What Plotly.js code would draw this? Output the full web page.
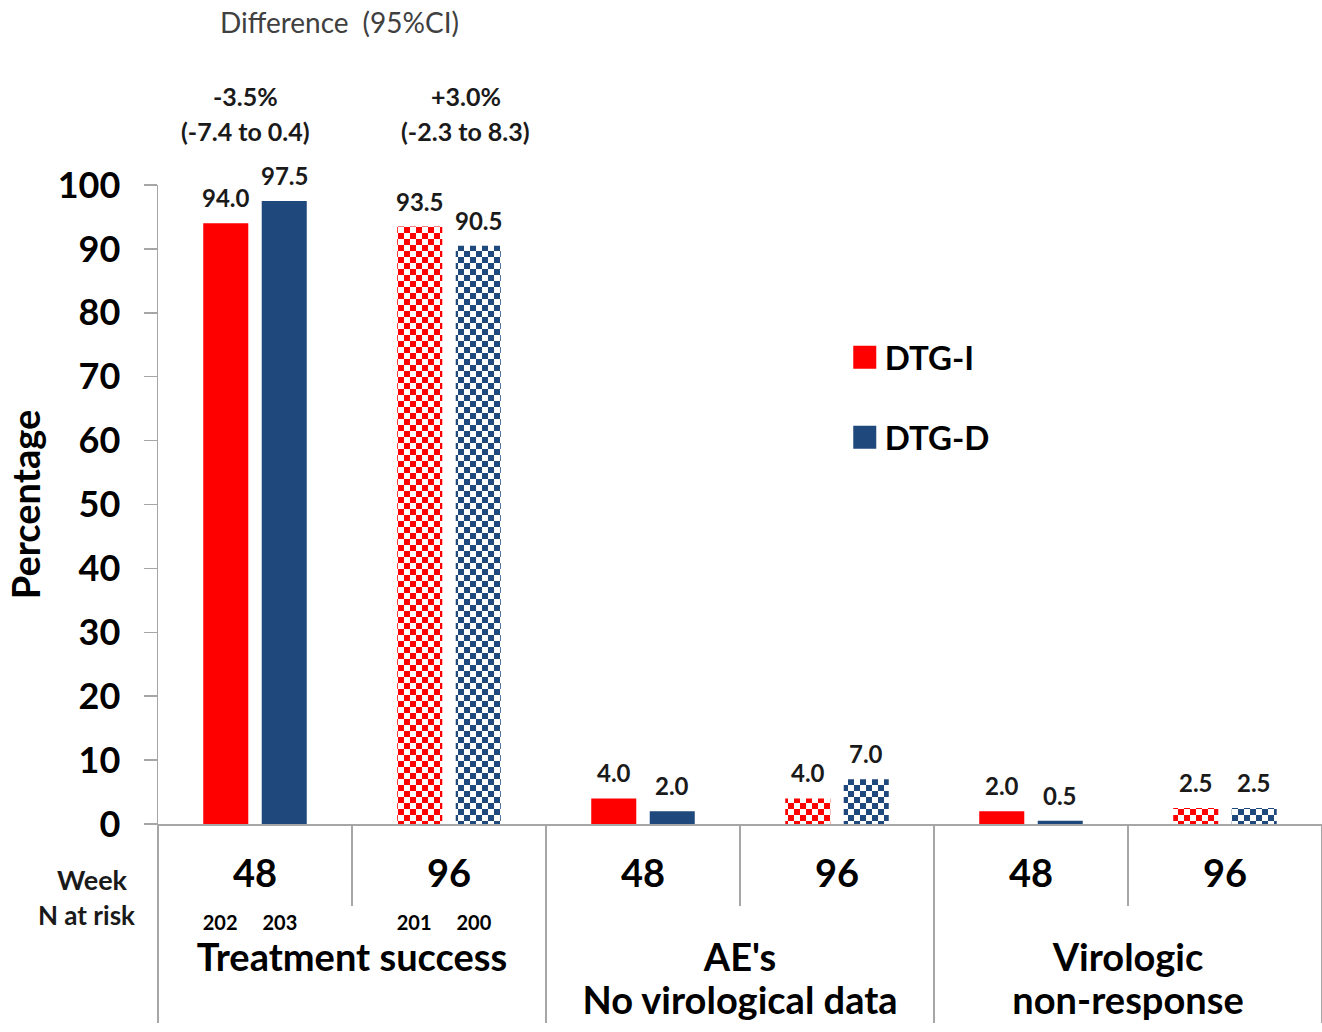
<!DOCTYPE html>
<html><head><meta charset="utf-8">
<script src="https://cdn.plot.ly/plotly-3.0.1.min.js"></script>
<style>html,body{margin:0;padding:0;background:#fff}#chart{width:1322px;height:1032px}</style>
</head><body><div id="chart"></div>
<script>
// ---- data ----
const outcomes = ['Treatment success', 'Treatment success',
  "AE's<br>No virological data", "AE's<br>No virological data",
  'Virologic<br>non-response', 'Virologic<br>non-response'];
const weeks = ['48', '96', '48', '96', '48', '96'];
const nAtRiskI = ['202', '201', '', '', '', ''];
const nAtRiskD = ['203', '200', '', '', '', ''];
const dtgI = [94.0, 93.5, 4.0, 4.0, 2.0, 2.5];
const dtgD = [97.5, 90.5, 2.0, 7.0, 0.5, 2.5];
const seriesNames = ['DTG-I', 'DTG-D'];
const diffLabels = ['-3.5%', '+3.0%'];
const ciLabels = ['(-7.4 to 0.4)', '(-2.3 to 8.3)'];
const headerLabel = 'Difference\u2002(95%CI)';
const rowLabels = ['Week', 'N at risk'];
const yTitle = 'Percentage';

// ---- style ----
const RED = '#ff0000', BLUE = '#1f497d', AXC = '#a6a6a6';
const FONT = 'Lato, "Open Sans", "DejaVu Sans", sans-serif';
const BARGAP = 0.397, GROUPGAP = 0.23;
const CELL = 6;
const barOffset = (1 - BARGAP) / 4;

const span = (t, px) => '<span style="font-size:' + px + 'px">' + t + '</span>';
// tall non-breaking spaces around the week number reserve vertical room so the
// outcome labels sit below the N-at-risk row
const pad = span('\u00a0', 58);
const innerLabels = weeks.map((w, i) => nAtRiskI[i]
  ? pad + span(w, 38) + pad + '<br>' + span(nAtRiskI[i] + '\u2003\u2002' + nAtRiskD[i] + '\u2002', 20)
  : span(w, 38));
const outerLabels = outcomes.map(o => o.split('<br>').map(l => span(l, 38)).join('<br>'));
const shapes = weeks.map(w => w === '96' ? 'x' : '');

function barTrace(name, vals, color, grp) {
  return {
    type: 'bar', name: name, legendgroup: grp,
    x: [outerLabels, innerLabels], y: vals,
    marker: { color: color, line: { width: 0 },
      pattern: { shape: shapes, fillmode: 'replace', fgcolor: color, bgcolor: '#ffffff', size: 2 * CELL, solidity: 0.5 } },
    hoverinfo: 'skip'
  };
}
const traces = [barTrace(seriesNames[0], dtgI, RED, 'a'), barTrace(seriesNames[1], dtgD, BLUE, 'b')];

const annotations = [];
const valFont = { family: FONT, size: 24, color: '#1a1a1a', weight: 700 };
[dtgI, dtgD].forEach((vals, s) => {
  vals.forEach((v, i) => {
    annotations.push({ xref: 'x', yref: 'y', x: i + (s === 0 ? -barOffset : barOffset), y: v,
      text: v.toFixed(1), showarrow: false, yanchor: 'bottom', xanchor: 'center', yshift: 9, font: valFont });
  });
});
const ciFont = { family: FONT, size: 25, color: '#1a1a1a', weight: 700 };
const ciX = [0.0756, 0.2646];
diffLabels.forEach((t, k) => {
  annotations.push({ xref: 'paper', yref: 'paper', x: ciX[k], y: 1.139, text: t, showarrow: false, font: ciFont, xanchor: 'center', yanchor: 'middle' });
  annotations.push({ xref: 'paper', yref: 'paper', x: ciX[k], y: 1.0845, text: ciLabels[k], showarrow: false, font: ciFont, xanchor: 'center', yanchor: 'middle' });
});
annotations.push({ xref: 'paper', yref: 'paper', x: 0.156, y: 1.255, text: headerLabel, showarrow: false,
  font: { family: FONT, size: 28, color: '#404040' }, xanchor: 'center', yanchor: 'middle' });
annotations.push({ xref: 'paper', yref: 'paper', x: -0.0567, y: -0.0876, text: rowLabels[0], showarrow: false,
  font: { family: FONT, size: 27, color: '#1a1a1a', weight: 700 }, xanchor: 'center', yanchor: 'middle' });
annotations.push({ xref: 'paper', yref: 'paper', x: -0.061, y: -0.1424, text: rowLabels[1], showarrow: false,
  font: { family: FONT, size: 26, color: '#1a1a1a', weight: 700 }, xanchor: 'center', yanchor: 'middle' });

const layout = {
  width: 1322, height: 1032,
  margin: { l: 158, r: 0, t: 185, b: 208 },
  paper_bgcolor: '#ffffff', plot_bgcolor: '#ffffff',
  font: { family: FONT, color: '#000000' },
  barmode: 'group', bargap: BARGAP, bargroupgap: GROUPGAP,
  showlegend: true,
  legend: { x: 0.590, y: 0.774, xanchor: 'left', yanchor: 'top', bgcolor: 'rgba(0,0,0,0)',
    font: { family: FONT, size: 33, color: '#000000', weight: 700 }, tracegroupgap: 34, traceorder: 'grouped' },
  xaxis: {
    type: 'multicategory', showline: true, linecolor: AXC, linewidth: 1.5,
    ticks: 'outside', tickson: 'boundaries', ticklen: 80, tickcolor: AXC, tickwidth: 1.5,
    ticklabelstandoff: 22,
    showdividers: true, dividercolor: AXC, dividerwidth: 1.5,
    tickfont: { family: FONT, size: 33, color: '#000000', weight: 700 },
    showgrid: false, zeroline: false
  },
  yaxis: {
    range: [0, 100], dtick: 10, showline: true, linecolor: AXC, linewidth: 1.5,
    ticks: 'outside', ticklen: 13, tickcolor: AXC, tickwidth: 1.5, ticklabelstandoff: 16,
    tickfont: { family: FONT, size: 36, color: '#000000', weight: 700 },
    showgrid: false, zeroline: false,
    title: { text: yTitle, standoff: 5, font: { family: FONT, size: 38, color: '#000000', weight: 700 } }
  },
  annotations: annotations
};

function fixup(gd) {
  const ns = 'http://www.w3.org/2000/svg';
  gd.querySelectorAll('pattern').forEach(p => {
    if (p.getAttribute('data-checker')) return;
    const kids = Array.from(p.children);
    let fg = null;
    kids.forEach(k => { if (k.tagName.toLowerCase() !== 'rect') fg = k.getAttribute('stroke') || k.getAttribute('fill') || fg; });
    if (!fg) return;
    kids.forEach(k => p.removeChild(k));
    p.setAttribute('width', 2 * CELL); p.setAttribute('height', 2 * CELL);
    p.removeAttribute('patternTransform');
    const mk = (x, y, w, h, c) => { const r = document.createElementNS(ns, 'rect');
      r.setAttribute('x', x); r.setAttribute('y', y); r.setAttribute('width', w); r.setAttribute('height', h);
      r.setAttribute('fill', c); p.appendChild(r); };
    mk(0, 0, 2 * CELL, 2 * CELL, '#ffffff'); mk(0, 0, CELL, CELL, fg); mk(CELL, CELL, CELL, CELL, fg);
    p.setAttribute('data-checker', '1');
  });
  gd.querySelectorAll('.legend .legendpoints path').forEach(p => {
    p.setAttribute('d', 'M11.5,11.5H-11.5V-11.5H11.5Z');
  });
}

const gd = document.getElementById('chart');
Plotly.newPlot(gd, traces, layout, { displayModeBar: false, staticPlot: true }).then(() => {
  fixup(gd);
  gd.on('plotly_afterplot', () => fixup(gd));
});
</script></body></html>
